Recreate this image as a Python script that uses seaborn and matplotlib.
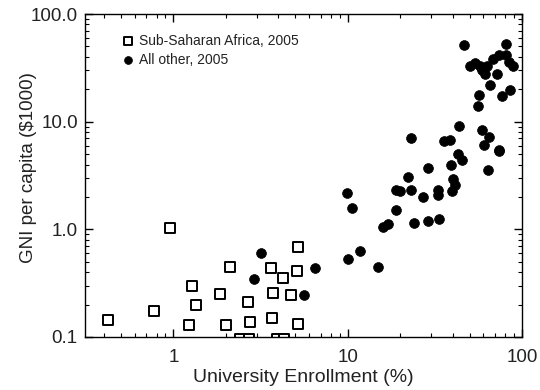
import numpy as np
import pandas as pd
import matplotlib
matplotlib.use("Agg")
import matplotlib.pyplot as plt
import seaborn as sns
from matplotlib.ticker import FixedLocator, FixedFormatter, LogLocator, NullFormatter

# Sub-Saharan Africa, 2005
ssa_enroll = [0.42, 0.77, 0.96, 1.23, 1.28, 1.34, 1.85, 2.01, 2.10, 2.66, 2.75,
              3.62, 3.74, 3.69, 4.23, 4.70, 5.16, 5.10, 5.16, 2.4, 2.7, 3.9, 4.3]
ssa_gni = [0.145, 0.175, 1.03, 0.13, 0.30, 0.20, 0.25, 0.13, 0.45, 0.21, 0.137,
           0.44, 0.255, 0.15, 0.35, 0.247, 0.68, 0.41, 0.133, 0.096, 0.096, 0.095, 0.095]

# All other, 2005
oth_enroll = [3.19, 2.88, 6.49, 5.6, 10.6, 10.0, 11.8, 9.9, 14.9, 16.0, 16.9, 18.9,
              19.0, 20.0, 22.2, 23.0, 24.0, 27.1, 28.7, 29.0, 33.0, 33.0, 33.3, 39.1,
              39.4, 40.3, 41.2, 42.7, 45.4, 64.0, 73.6, 46.6, 80.9, 50.2, 53.5, 57.2,
              59.2, 61.0, 62.5, 67.8, 73.6, 81.0, 84.2, 88.9, 71.5, 65.6, 85.0, 56.9,
              55.7, 76.6, 43.6, 59.2, 64.6, 60.3, 73.6, 23.0, 35.6, 38.5]
oth_gni = [0.60, 0.345, 0.44, 0.245, 1.57, 0.53, 0.63, 2.19, 0.45, 1.04, 1.13, 1.50,
           2.34, 2.27, 3.03, 2.34, 1.14, 2.0, 3.7, 1.19, 2.34, 2.07, 1.24, 4.0,
           2.26, 2.96, 2.57, 4.99, 4.38, 3.59, 5.35, 51.2, 53.0, 33.0, 35.4, 32.9,
           30.0, 28.0, 33.0, 37.9, 42.0, 42.0, 36.0, 33.0, 27.7, 21.9, 19.9, 17.7,
           14.0, 17.3, 9.1, 8.45, 7.2, 6.1, 5.5, 7.1, 6.6, 6.8]

x_ticks = [1, 10, 100]
x_labels = ["1", "10", "100"]
y_ticks = [0.1, 1, 10, 100]
y_labels = ["0.1", "1.0", "10.0", "100.0"]

ssa = pd.DataFrame({"enroll": ssa_enroll, "gni": ssa_gni})
oth = pd.DataFrame({"enroll": oth_enroll, "gni": oth_gni})

sns.set_style("ticks")
plt.rcParams["font.family"] = ["Liberation Sans", "DejaVu Sans"]

fig = plt.figure(figsize=(5.4, 3.9), dpi=100)
ax = fig.add_axes([0.157, 0.136, 0.810, 0.828])

sns.scatterplot(data=ssa, x="enroll", y="gni", ax=ax, marker="s", s=42,
                facecolor="white", edgecolor="black", linewidth=1.4,
                label="Sub-Saharan Africa, 2005")
sns.scatterplot(data=oth, x="enroll", y="gni", ax=ax, marker="o", s=50,
                color="black", edgecolor="black", linewidth=0.5,
                label="All other, 2005")

ax.set_xscale("log")
ax.set_yscale("log")
ax.set_xlim(0.31, 100)
ax.set_ylim(0.1, 100)

ax.xaxis.set_major_locator(FixedLocator(x_ticks))
ax.xaxis.set_major_formatter(FixedFormatter(x_labels))
ax.yaxis.set_major_locator(FixedLocator(y_ticks))
ax.yaxis.set_major_formatter(FixedFormatter(y_labels))
ax.xaxis.set_minor_locator(LogLocator(base=10, subs=np.arange(2, 10)))
ax.yaxis.set_minor_locator(LogLocator(base=10, subs=np.arange(2, 10)))
ax.xaxis.set_minor_formatter(NullFormatter())
ax.yaxis.set_minor_formatter(NullFormatter())

ax.tick_params(which="both", direction="in", top=True, right=True, colors="black",
               labelcolor="#222222")
ax.tick_params(which="major", length=6, width=1, labelsize=13.5)
ax.tick_params(axis="x", which="major", pad=9)
ax.tick_params(axis="y", which="major", pad=5)
ax.tick_params(which="minor", length=3, width=0.8)
for sp in ax.spines.values():
    sp.set_color("black")
    sp.set_linewidth(1)

ax.set_xlabel("University Enrollment (%)", fontsize=14, labelpad=2, color="#222222")
ax.set_ylabel("GNI per capita ($1000)", fontsize=13.5, labelpad=3, color="#222222")
ax.yaxis.set_label_coords(-0.11, 0.525)

leg = ax.legend(loc="upper left", bbox_to_anchor=(0.07, 0.955), frameon=False,
                fontsize=10, handletextpad=0.3, borderaxespad=0, labelspacing=0.35,
                handlelength=1.0, markerscale=0.8)
for t in leg.get_texts():
    t.set_color("#222222")

fig.savefig("out.png", dpi=100)
